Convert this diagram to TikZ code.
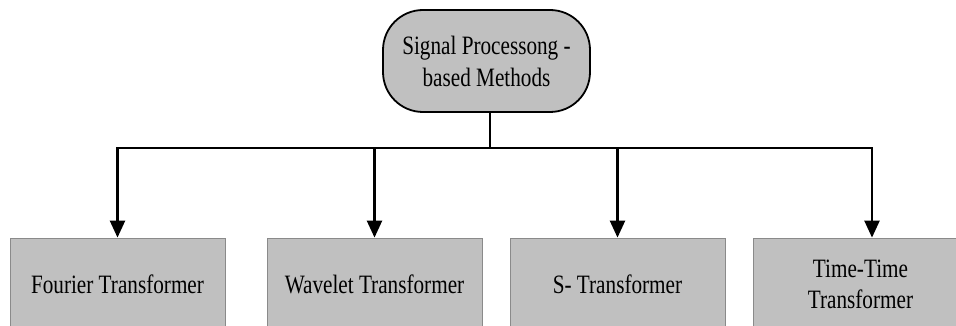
\documentclass[tikz,border=0pt]{standalone}
\usepackage{fontspec}
\setmainfont{Liberation Serif}[FakeStretch=0.8]
\usetikzlibrary{arrows.meta}
\definecolor{boxgray}{HTML}{C0C0C0}
\definecolor{edgegray}{HTML}{8A8A8A}
\tikzset{
  topbox/.style={draw=black, line width=1.8pt, fill=boxgray, rounded corners=40pt,
    minimum width=207pt, minimum height=102pt, align=center, inner sep=0pt,
    font=\fontsize{26.5}{32}\selectfont},
  leafbox/.style={draw=edgegray, line width=0.8pt, fill=boxgray,
    minimum width=215pt, minimum height=92pt, align=center, inner sep=0pt,
    font=\fontsize{26.5}{31}\selectfont},
  conn/.style={draw=black, line width=2.4pt},
  arr/.style={conn, -{Triangle[width=15pt,length=17pt]}, shorten >=0pt}
}
\begin{document}
\begin{tikzpicture}[x=1pt,y=-1pt]
\useasboundingbox (0,0) rectangle (956,326);
\clip (0,0) rectangle (956,326);
\fill[white] (0,0) rectangle (956,326);
\node[topbox] (top) at (486.5,61) {Signal Processong -\\based Methods};
\node[leafbox] (fourier) at (117.5,284) {Fourier Transformer};
\node[leafbox] (wavelet) at (374.5,284) {Wavelet Transformer};
\node[leafbox] (stf) at (617.5,284) {S- Transformer};
\node[leafbox] (time) at (860.5,284) {Time-Time\\Transformer};
\coordinate (j) at (490,148);
\coordinate (tarr) at (872,148);
\draw[conn] (top.south -| j) -- (j);
\draw[conn, line cap=rect] (fourier.north |- j) -- (tarr);
\draw[arr] (fourier.north |- j) -- (fourier.north);
\draw[arr] (wavelet.north |- j) -- (wavelet.north);
\draw[arr] (stf.north |- j) -- (stf.north);
\draw[arr] (tarr) -- (tarr |- time.north);
\end{tikzpicture}
\end{document}
